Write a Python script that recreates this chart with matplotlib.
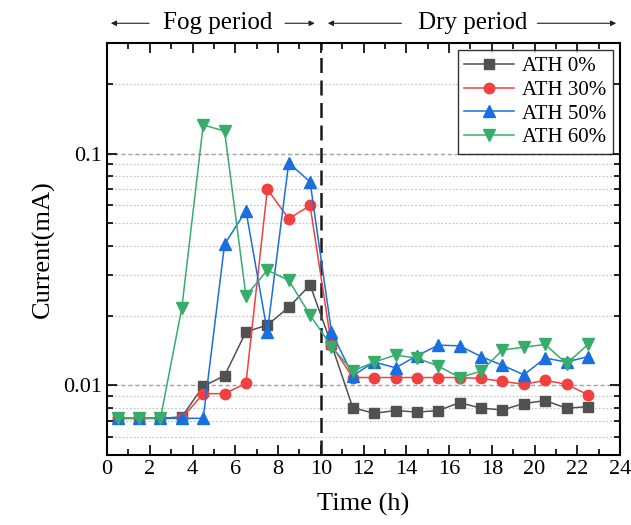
import numpy as np
import matplotlib
matplotlib.use('Agg')
import matplotlib.pyplot as plt
from matplotlib.ticker import FixedLocator, FuncFormatter, MultipleLocator

plt.rcParams['font.family'] = ['Liberation Serif', 'DejaVu Serif']

# sampling times (h), one reading per hour
time_h = [0.5, 1.5, 2.5, 3.5, 4.5, 5.5, 6.5, 7.5, 8.5, 9.5, 10.5, 11.5,
          12.5, 13.5, 14.5, 15.5, 16.5, 17.5, 18.5, 19.5, 20.5, 21.5, 22.5]

# leakage current (mA) for each ATH content
ath0 = [0.0072, 0.0072, 0.0072, 0.0073, 0.0099, 0.0110, 0.0170, 0.0182,
        0.0217, 0.0271, 0.0150, 0.0080, 0.00757, 0.00778, 0.00766, 0.00778,
        0.00842, 0.00796, 0.00783, 0.00834, 0.00859, 0.00796, 0.00809]
ath30 = [0.0072, 0.0072, 0.0072, 0.0072, 0.0092, 0.0092, 0.0102, 0.0702,
         0.0523, 0.0597, 0.0149, 0.0108, 0.0108, 0.0108, 0.0108, 0.0108,
         0.0108, 0.0107, 0.0104, 0.0101, 0.0105, 0.0101, 0.0091]
ath50 = [0.0072, 0.0072, 0.0072, 0.0072, 0.0072, 0.0406, 0.0567, 0.0170,
         0.0912, 0.0755, 0.0170, 0.0110, 0.0126, 0.0119, 0.0134, 0.0149,
         0.0148, 0.0133, 0.0122, 0.0111, 0.0131, 0.0126, 0.0133]
ath60 = [0.0072, 0.0072, 0.0072, 0.0216, 0.133, 0.125, 0.0243, 0.0314,
         0.0284, 0.0201, 0.0147, 0.0115, 0.0126, 0.0135, 0.0131, 0.0121,
         0.0108, 0.0115, 0.0142, 0.0146, 0.0150, 0.0124, 0.0150]

labels = ['ATH 0%', 'ATH 30%', 'ATH 50%', 'ATH 60%']
colors = ['#515151', '#F14040', '#1A6FDF', '#37AD6B']
markers = ['s', 'o', '^', 'v']
msizes = [6.5, 7.5, 8, 8]

fig = plt.figure(figsize=(6.31, 5.25), dpi=100)
ax = fig.add_axes([0.1696, 0.1333, 0.813, 0.7847])

for ys, lab, c, m, ms in zip([ath0, ath30, ath50, ath60], labels, colors, markers, msizes):
    ax.plot(time_h, ys, color=c, marker=m, markersize=ms, linewidth=1.1,
            markeredgecolor=c, label=lab)

ax.set_yscale('log')
ax.set_xlim(0, 24)
ax.set_ylim(0.005, 0.3)

# grid: dashed at decades, dotted at minor values
ax.yaxis.set_major_locator(FixedLocator([0.01, 0.1]))
minor_vals = [0.006, 0.007, 0.008, 0.009] + [k * 0.01 for k in range(2, 10)] + [0.2]
ax.yaxis.set_minor_locator(FixedLocator(minor_vals))
ax.yaxis.set_major_formatter(FuncFormatter(lambda v, p: '%g' % v))
ax.yaxis.set_minor_formatter(FuncFormatter(lambda v, p: ''))
ax.grid(True, which='major', axis='y', color='#a0a0a0', linestyle=(0, (3, 2)), linewidth=1.0)
ax.grid(True, which='minor', axis='y', color='#c8c8c8', linestyle=(0, (1.5, 1.5)), linewidth=0.9)
ax.set_axisbelow(True)

ax.xaxis.set_major_locator(MultipleLocator(2))
ax.xaxis.set_minor_locator(MultipleLocator(1))
ax.tick_params(which='both', direction='in', top=True, right=True, labelsize=16, width=1.2)
ax.tick_params(which='major', length=7)
ax.tick_params(which='minor', length=4)
for s in ax.spines.values():
    s.set_linewidth(1.5)

ax.axvline(10, color='#1a1a1a', linestyle=(0, (6, 3)), linewidth=1.8, zorder=1)

ax.set_xlabel('Time (h)', fontsize=19, labelpad=10)
ax.set_ylabel('Current(mA)', fontsize=19, labelpad=6)

# period labels above the frame
trans = ax.get_xaxis_transform()
ya = 1.048
arrow_kw = dict(arrowstyle='-|>', color='#222222', lw=0.8, mutation_scale=8)
ax.text(5.2, ya, 'Fog period', transform=trans, ha='center', va='center', fontsize=18)
ax.text(17.1, ya, 'Dry period', transform=trans, ha='center', va='center', fontsize=18)
for x0, x1 in [(2.1, 0.05), (8.2, 9.85), (13.9, 10.2), (20.0, 23.95)]:
    ax.annotate('', xy=(x1, ya), xytext=(x0, ya), xycoords=trans, textcoords=trans,
                arrowprops=arrow_kw, annotation_clip=False)

leg = ax.legend(loc='upper right', fontsize=15, frameon=True, fancybox=False,
                edgecolor='black', handlelength=2.4, labelspacing=0.2,
                borderaxespad=0.35, borderpad=0.3, handletextpad=0.4)
leg.get_frame().set_linewidth(1.0)

fig.savefig('out.png', dpi=100)
